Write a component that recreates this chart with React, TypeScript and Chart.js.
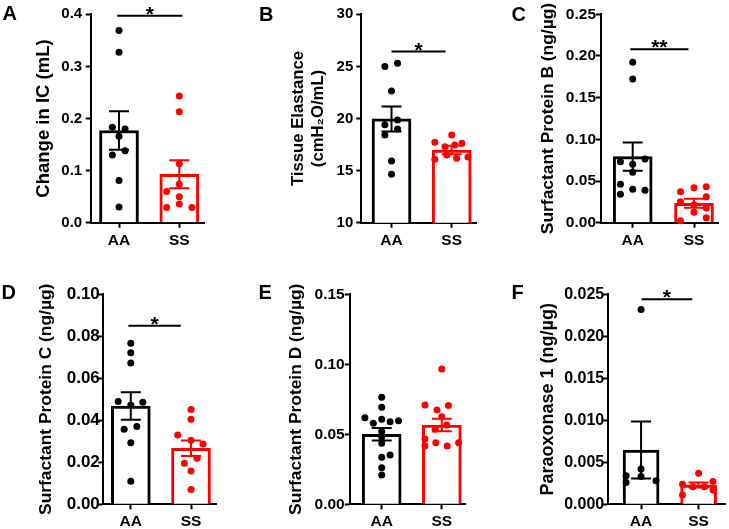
import React, { useEffect, useRef } from 'react';
import { Chart, registerables } from 'chart.js';

Chart.register(...registerables);

const FONT = '"Liberation Sans", Arial, Helvetica, sans-serif';

// ---------- shared ----------
const groups = ['AA', 'SS'];
const groupColors = ['#000000', '#ff0000'];

// ---------- Panel A ----------
const aTitle = 'Change in IC (mL)';
const aMeans = [0.177, 0.093];
const aSems = [0.037, 0.027];
const aAA = [0.369, 0.327, 0.183, 0.18, 0.166, 0.13, 0.138, 0.081, 0.03];
const aAAJitter = [0, 0, -0.11, 0.1, 0, -0.11, 0.1, 0, 0];
const aSS = [0.243, 0.213, 0.113, 0.074, 0.06, 0.05, 0.036, 0.029, 0.029];
const aSSJitter = [0, 0, 0, 0, -0.21, 0, 0, -0.21, 0.21];
const aSig = { y: 0.397, text: '*', from: -0.03, to: 1.05 };
const aTicks = { min: 0, max: 0.4, step: 0.1, decimals: 1 };

// ---------- Panel B ----------
const bTitle = ['Tissue Elastance', '(cmH\u2082O/mL)'];
const bMeans = [19.96, 16.98];
const bSems = [1.2, 0.4];
const bAA = [24.98, 25.3, 22.65, 19.4, 19.86, 19.0, 18.42, 15.92, 14.65];
const bAAJitter = [-0.11, 0.1, 0, -0.11, 0.1, 0.1, -0.11, 0, 0];
const bSS = [18.42, 17.72, 17.3, 17.46, 17.62, 16.5, 16.18, 16.1, 16.3];
const bSSJitter = [0, -0.28, -0.11, 0.05, 0.17, -0.08, 0.08, -0.28, 0.27];
const bSig = { y: 26.42, text: '*', from: 0, to: 0.9 };
const bTicks = { min: 10, max: 30, step: 5, decimals: 0 };

// ---------- Panel C ----------
const cTitle = 'Surfactant Protein B (ng/\u00b5g)';
const cMeans = [0.0792, 0.0233];
const cSems = [0.017, 0.0055];
const cAA = [0.1925, 0.1725, 0.0732, 0.07, 0.0765, 0.0605, 0.046, 0.034, 0.04, 0.039];
const cAAJitter = [0, 0, -0.2, 0, 0.2, 0, -0.2, -0.2, 0, 0.2];
const cSS = [0.0372, 0.042, 0.0432, 0.0312, 0.0252, 0.0215, 0.0125, 0.0175, 0.0024, 0.006];
const cSSJitter = [-0.22, 0, 0.2, 0.2, -0.22, 0, 0, 0.2, -0.22, 0.2];
const cSig = { y: 0.208, text: '**', from: -0.04, to: 0.91 };
const cTicks = { min: 0, max: 0.25, step: 0.05, decimals: 2 };

// ---------- Panel D ----------
const dTitle = 'Surfactant Protein C (ng/\u00b5g)';
const dMeans = [0.0468, 0.0267];
const dSems = [0.0065, 0.0037];
const dAA = [0.0767, 0.0722, 0.0673, 0.0489, 0.0473, 0.0486, 0.0357, 0.037, 0.0293, 0.011];
const dAAJitter = [0, 0, 0, -0.21, 0, 0.2, -0.11, 0.1, 0, 0];
const dSS = [0.0452, 0.0405, 0.033, 0.0305, 0.0287, 0.0219, 0.0195, 0.0159, 0.0071];
const dSSJitter = [0, 0, -0.22, 0, 0.2, 0.1, -0.11, 0, 0];
const dSig = { y: 0.085, text: '*', from: -0.04, to: 0.83 };
const dTicks = { min: 0, max: 0.1, step: 0.02, decimals: 2 };

// ---------- Panel E ----------
const eTitle = 'Surfactant Protein D (ng/\u00b5g)';
const eMeans = [0.05, 0.0566];
const eSems = [0.0045, 0.0045];
const eAA = [0.0764, 0.0693, 0.0619, 0.0579, 0.0607, 0.059, 0.0597, 0.052, 0.048, 0.0436, 0.0336, 0.0352, 0.0261, 0.0209];
const eAAJitter = [0, 0, -0.28, -0.14, 0, 0.14, 0.28, 0, 0, 0, 0, 0.14, 0, 0];
const eSS = [0.0966, 0.0709, 0.0674, 0.0705, 0.0626, 0.0566, 0.0536, 0.0466, 0.0416, 0.044, 0.0416, 0.044];
const eSSJitter = [0, -0.28, -0.08, 0.11, 0, 0.08, -0.11, -0.28, -0.28, -0.1, 0.09, 0.28];
const eSig = null;
const eTicks = { min: 0, max: 0.15, step: 0.05, decimals: 2 };

// ---------- Panel F ----------
const fTitle = 'Paraoxonase 1 (ng/\u00b5g)';
const fMeans = [0.00646, 0.0023];
const fSems = [0.0034, 0.0003];
const fAA = [0.0232, 0.0042, 0.0033, 0.0034, 0.0026, 0.0028];
const fAAJitter = [0, 0, 0, -0.26, -0.26, 0.26];
const fSS = [0.0037, 0.0024, 0.0027, 0.0021, 0.0021, 0.0017, 0.0011];
const fSSJitter = [0, -0.28, 0.25, -0.1, 0.1, 0.25, -0.28];
const fSig = { y: 0.0244, text: '*', from: 0.01, to: 0.89 };
const fTicks = { min: 0, max: 0.025, step: 0.005, decimals: 3 };

// ---------- layout (page pixels) ----------
type Geo = { titleX: number; axisX: number; right: number; top: number; bottom: number; cAA: number; cSS: number };
type Box = { left: number; top: number; width: number; height: number };
type PanelDef = {
  letter: string;
  letterPos: [number, number];
  title: string | string[];
  means: number[];
  sems: number[];
  aa: number[];
  aaJ: number[];
  ss: number[];
  ssJ: number[];
  sig: { y: number; text: string; from: number; to: number } | null;
  ticks: { min: number; max: number; step: number; decimals: number };
  box: Box;
  geo: Geo;
  titleSize: number;
  tickSize: number;
  tickPad: number;
  barWidth: number;
};

const TOP_H = 262;

const panels: PanelDef[] = [
  {
    letter: 'A', letterPos: [2.5, 20], title: aTitle, means: aMeans, sems: aSems,
    aa: aAA, aaJ: aAAJitter, ss: aSS, ssJ: aSSJitter, sig: aSig, ticks: aTicks,
    box: { left: 0, top: 0, width: 243, height: TOP_H },
    geo: { titleX: 44, axisX: 90.7, right: 204, top: 14.3, bottom: 222.7, cAA: 119, cSS: 179.3 },
    titleSize: 18.5, tickSize: 15, tickPad: 3.5, barWidth: 39,
  },
  {
    letter: 'B', letterPos: [259, 20.5], title: bTitle, means: bMeans, sems: bSems,
    aa: bAA, aaJ: bAAJitter, ss: bSS, ssJ: bSSJitter, sig: bSig, ticks: bTicks,
    box: { left: 243, top: 0, width: 243, height: TOP_H },
    geo: { titleX: 298, axisX: 361.3, right: 476, top: 14.3, bottom: 222.7, cAA: 391.5, cSS: 451.7 },
    titleSize: 16.7, tickSize: 15, tickPad: 3, barWidth: 39,
  },
  {
    letter: 'C', letterPos: [511.5, 20.5], title: cTitle, means: cMeans, sems: cSems,
    aa: cAA, aaJ: cAAJitter, ss: cSS, ssJ: cSSJitter, sig: cSig, ticks: cTicks,
    box: { left: 486, top: 0, width: 243, height: TOP_H },
    geo: { titleX: 548, axisX: 601, right: 718, top: 14.3, bottom: 222.7, cAA: 632.7, cSS: 694 },
    titleSize: 17.4, tickSize: 15.5, tickPad: 0, barWidth: 39,
  },
  {
    letter: 'D', letterPos: [1.5, 299.3], title: dTitle, means: dMeans, sems: dSems,
    aa: dAA, aaJ: dAAJitter, ss: dSS, ssJ: dSSJitter, sig: dSig, ticks: dTicks,
    box: { left: 0, top: TOP_H, width: 243, height: 529 - TOP_H },
    geo: { titleX: 46.5, axisX: 103.3, right: 216, top: 294.3, bottom: 504.3, cAA: 130.8, cSS: 191 },
    titleSize: 17.4, tickSize: 17, tickPad: -1.5, barWidth: 39,
  },
  {
    letter: 'E', letterPos: [258.5, 299], title: eTitle, means: eMeans, sems: eSems,
    aa: eAA, aaJ: eAAJitter, ss: eSS, ssJ: eSSJitter, sig: eSig, ticks: eTicks,
    box: { left: 243, top: TOP_H, width: 243, height: 529 - TOP_H },
    geo: { titleX: 296, axisX: 349.7, right: 465.7, top: 294.3, bottom: 504.3, cAA: 381.7, cSS: 441.8 },
    titleSize: 17.4, tickSize: 15.5, tickPad: 0, barWidth: 39,
  },
  {
    letter: 'F', letterPos: [511.5, 299], title: fTitle, means: fMeans, sems: fSems,
    aa: fAA, aaJ: fAAJitter, ss: fSS, ssJ: fSSJitter, sig: fSig, ticks: fTicks,
    box: { left: 486, top: TOP_H, width: 243, height: 529 - TOP_H },
    geo: { titleX: 548, axisX: 607.7, right: 726, top: 294.3, bottom: 504.3, cAA: 641.2, cSS: 699 },
    titleSize: 18, tickSize: 16, tickPad: -1.5, barWidth: 36,
  },
];

function makeChart(canvas: HTMLCanvasElement, p: PanelDef) {
  const g = p.geo;
  const titleLH = 1.2;
  const lh = p.titleSize * titleLH;
  const padLeft = g.titleX - p.box.left - lh / 2;
  const yWidth = g.axisX - p.box.left - padLeft;
  const padTop = g.top - p.box.top;
  const padRight = p.box.left + p.box.width - g.right;
  const xHeight = p.box.top + p.box.height - g.bottom;
  const span = g.cSS - g.cAA;
  const xMin = -(g.cAA - g.axisX) / span;
  const xMax = 1 + (g.right - g.cSS) / span;
  const cap = 20;

  const overlay = {
    id: 'overlay' + p.letter,
    afterDatasetsDraw(chart: any) {
      const { ctx } = chart;
      const xs = chart.scales.x;
      const ys = chart.scales.y;
      ctx.save();
      p.means.forEach((m, i) => {
        const x = xs.getPixelForValue(i);
        const yT = ys.getPixelForValue(m + p.sems[i]);
        const yB = ys.getPixelForValue(m - p.sems[i]);
        ctx.strokeStyle = groupColors[i];
        ctx.lineWidth = 2;
        ctx.beginPath();
        ctx.moveTo(x, yT);
        ctx.lineTo(x, yB);
        ctx.moveTo(x - cap / 2, yT);
        ctx.lineTo(x + cap / 2, yT);
        ctx.moveTo(x - cap / 2, yB);
        ctx.lineTo(x + cap / 2, yB);
        ctx.stroke();
      });
      if (p.sig) {
        const y = ys.getPixelForValue(p.sig.y);
        const x1 = xs.getPixelForValue(p.sig.from);
        const x2 = xs.getPixelForValue(p.sig.to);
        ctx.strokeStyle = '#000';
        ctx.lineWidth = 2;
        ctx.beginPath();
        ctx.moveTo(x1, y);
        ctx.lineTo(x2, y);
        ctx.stroke();
        ctx.fillStyle = '#000';
        ctx.font = `bold 21px ${FONT}`;
        ctx.textAlign = 'center';
        ctx.textBaseline = 'alphabetic';
        ctx.fillText(p.sig.text, (x1 + x2) / 2, y + 5);
      }
      ctx.fillStyle = '#000';
      ctx.font = `bold 20px ${FONT}`;
      ctx.textAlign = 'left';
      ctx.textBaseline = 'alphabetic';
      ctx.fillText(p.letter, p.letterPos[0] - p.box.left, p.letterPos[1] - p.box.top);
      ctx.restore();
    },
  };

  const tickFont = { family: FONT, size: p.tickSize, weight: 'bold' as const };

  return new Chart(canvas, {
    type: 'scatter',
    data: {
      datasets: [
        {
          type: 'scatter',
          data: p.aa.map((v, i) => ({ x: 0 + p.aaJ[i], y: v })),
          pointRadius: 3.5,
          pointBackgroundColor: groupColors[0],
          pointBorderWidth: 0,
          pointHoverRadius: 3.5,
          order: 1,
          clip: false,
        } as any,
        {
          type: 'scatter',
          data: p.ss.map((v, i) => ({ x: 1 + p.ssJ[i], y: v })),
          pointRadius: 3.5,
          pointBackgroundColor: groupColors[1],
          pointBorderWidth: 0,
          pointHoverRadius: 3.5,
          order: 1,
          clip: false,
        } as any,
        {
          type: 'bar',
          data: p.means.map((m, i) => ({ x: i, y: m })),
          backgroundColor: '#ffffff',
          borderColor: groupColors,
          borderWidth: 3,
          borderSkipped: 'start',
          barThickness: p.barWidth,
          order: 2,
        } as any,
      ],
    },
    options: {
      responsive: false,
      maintainAspectRatio: false,
      animation: false,
      devicePixelRatio: 1,
      events: [],
      layout: { padding: { left: padLeft, top: padTop, right: padRight, bottom: 0 } },
      plugins: { legend: { display: false }, tooltip: { enabled: false }, title: { display: false } },
      scales: {
        x: {
          type: 'linear',
          min: xMin,
          max: xMax,
          offset: false,
          afterBuildTicks: (s: any) => {
            s.ticks = groups.map((_, i) => ({ value: i }));
          },
          afterFit: (s: any) => {
            s.height = xHeight;
          },
          grid: {
            display: true,
            offset: false,
            drawOnChartArea: false,
            drawTicks: true,
            tickLength: 5,
            tickWidth: 2,
            tickColor: '#000',
            color: '#000',
          },
          border: { display: true, color: '#000', width: 2 },
          ticks: {
            color: '#000',
            font: { family: FONT, size: 15.5, weight: 'bold' },
            padding: 3.5,
            maxRotation: 0,
            autoSkip: false,
            callback: (_v: any, i: number) => groups[i],
          },
        },
        y: {
          type: 'linear',
          min: p.ticks.min,
          max: p.ticks.max,
          afterFit: (s: any) => {
            s.width = yWidth;
          },
          grid: {
            display: true,
            drawOnChartArea: false,
            drawTicks: true,
            tickLength: 5,
            tickWidth: 2,
            tickColor: '#000',
            color: '#000',
          },
          border: { display: true, color: '#000', width: 2 },
          ticks: {
            stepSize: p.ticks.step,
            color: '#000',
            font: tickFont,
            padding: p.tickPad,
            callback: (v: any) => Number(v).toFixed(p.ticks.decimals),
          },
          title: {
            display: true,
            text: p.title as any,
            color: '#000',
            font: { family: FONT, size: p.titleSize, weight: 'bold', lineHeight: titleLH },
            padding: 0,
          },
        },
      },
    } as any,
    plugins: [overlay],
  });
}

function PanelChart({ p }: { p: PanelDef }) {
  const ref = useRef<HTMLCanvasElement | null>(null);
  useEffect(() => {
    if (!ref.current) return;
    const chart = makeChart(ref.current, p);
    return () => chart.destroy();
  }, [p]);
  return (
    <canvas
      ref={ref}
      width={p.box.width}
      height={p.box.height}
      style={{ position: 'absolute', left: p.box.left, top: p.box.top, width: p.box.width, height: p.box.height }}
    />
  );
}

export default function App() {
  return (
    <div style={{ position: 'fixed', left: 0, top: 0, width: 729, height: 529, background: '#ffffff', overflow: 'hidden' }}>
      {panels.map((p) => (
        <PanelChart key={p.letter} p={p} />
      ))}
    </div>
  );
}
